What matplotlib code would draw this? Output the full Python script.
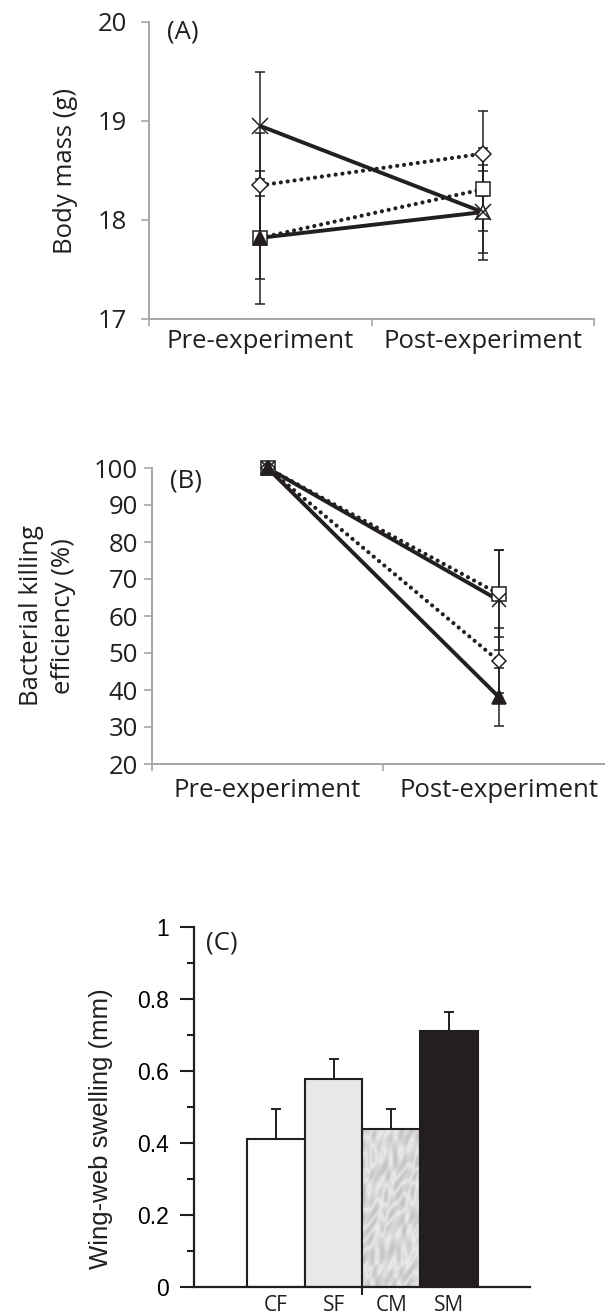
import numpy as np
import matplotlib.pyplot as plt
from matplotlib.patches import Rectangle

# ---- data ----
phases = ["Pre-experiment", "Post-experiment"]

# (A) body mass (g)
mass_cross = [18.95, 18.08]
mass_cross_err = [0.54, 0.41]
mass_diamond = [18.35, 18.67]
mass_diamond_err = [0.53, 0.43]
mass_square = [17.82, 18.31]
mass_square_err = [0.67, 0.42]
mass_tri = [17.82, 18.08]
mass_tri_err = [0.42, 0.48]

# (B) bacterial killing efficiency (%)
bke_cross = [100, 64.3]
bke_cross_err = [0, 13.5]
bke_diamond = [100, 47.9]
bke_diamond_err = [0, 8.8]
bke_square = [100, 66.0]
bke_square_err = [0, 11.8]
bke_tri = [100, 38.2]
bke_tri_err = [0, 7.8]

# (C) wing-web swelling (mm)
groups = ["CF", "SF", "CM", "SM"]
swelling = [0.411, 0.578, 0.439, 0.711]
swelling_err = [0.084, 0.054, 0.056, 0.053]

W, H = 605, 1316
K = "#231f20"
GREY = "#a6a6a6"
OS = "Open Sans"


def box(l, t, r, b):
    return [l / W, 1 - b / H, (r - l) / W, (b - t) / H]


fig = plt.figure(figsize=(W / 100, H / 100), dpi=100)


def line_panel(ax, series, ylim, yticks, tick_pad, xlab_pad):
    x = np.array([0.5, 1.5])
    for vals, err, mk, ms, face, ls in series:
        ax.errorbar(x, vals, yerr=err, fmt="none", ecolor=K, elinewidth=1.1,
                    capsize=3.6, capthick=1.1, zorder=2)
    for vals, err, mk, ms, face, ls in series:
        if ls == "solid":
            ax.plot(x, vals, color=K, lw=2.8, solid_capstyle="butt", zorder=3,
                    clip_on=False)
        else:
            ax.plot(x, vals, color=K, lw=3.0, dashes=(0.01, 1.65),
                    dash_capstyle="round", zorder=3, clip_on=False)
    for vals, err, mk, ms, face, ls in series:
        for i in range(2):
            ax.plot(x[i], vals[i], ls="none", marker=mk, ms=ms, mfc=face[i],
                    mec=K, mew=1.1, zorder=4, clip_on=False)
    ax.set_xlim(0, 2)
    ax.set_ylim(*ylim)
    ax.set_yticks(yticks)
    ax.set_xticks([0, 1, 2])
    ax.set_xticklabels([])
    ax.set_xticks(x, minor=True)
    ax.set_xticklabels(phases, minor=True, fontsize=18.5, family=OS, color=K)
    ax.tick_params(axis="x", which="minor", length=0, pad=xlab_pad)
    ax.tick_params(axis="x", which="major", length=5, width=1.2, color=GREY)
    ax.tick_params(axis="y", length=6, width=1.2, color=GREY, pad=tick_pad,
                   labelsize=18.5, labelcolor=K)
    for lab in ax.get_yticklabels():
        lab.set_family(OS)
    for s in ["top", "right"]:
        ax.spines[s].set_visible(False)
    for s in ["left", "bottom"]:
        ax.spines[s].set_color(GREY)
        ax.spines[s].set_linewidth(1.4)


# ---- (A) ----
axA = fig.add_axes(box(149, 22, 594, 319))
line_panel(axA, [
    (mass_square, mass_square_err, "s", 10.5, ["white", "white"], "dotted"),
    (mass_tri, mass_tri_err, "^", 10, [K, "white"], "solid"),
    (mass_diamond, mass_diamond_err, "D", 7.8, ["white", "white"], "dotted"),
    (mass_cross, mass_cross_err, "x", 11, ["none", "none"], "solid"),
], (17, 20), [17, 18, 19, 20], 10, 7)
axA.set_ylabel("Body mass (g)", fontsize=18.5, family=OS, color=K)
axA.yaxis.set_label_coords(-0.16, 0.5)
axA.text(0.04, 0.965, "(A)", transform=axA.transAxes, fontsize=18.5,
         family=OS, color=K, va="center", ha="left")

# ---- (B) ----
axB = fig.add_axes(box(152, 468, 614, 764))
line_panel(axB, [
    (bke_square, bke_square_err, "s", 10, ["white", "white"], "dotted"),
    (bke_diamond, bke_diamond_err, "D", 7.5, ["white", "white"], "dotted"),
    (bke_tri, bke_tri_err, "^", 10, [K, K], "solid"),
    (bke_cross, bke_cross_err, "x", 10, ["none", "none"], "solid"),
], (20, 100), list(range(20, 101, 10)), 4, 10)
axB.set_ylabel("Bacterial killing\nefficiency (%)", fontsize=18.5, family=OS,
               color=K, linespacing=1.35)
axB.yaxis.set_label_coords(-0.165, 0.5)
axB.text(0.04, 0.955, "(B)", transform=axB.transAxes, fontsize=18.5,
         family=OS, color=K, va="center", ha="left")

# ---- (C) ----
axC = fig.add_axes(box(194, 927, 530, 1287))
xc = np.arange(1, 5)
faces = ["white", "#e8e8ea", "none", K]
axC.bar(xc, swelling, width=1.0, color=faces, edgecolor=K, linewidth=1.5,
        zorder=2)
axC.errorbar(xc, swelling, yerr=[np.zeros(4), swelling_err], fmt="none",
             ecolor=K, elinewidth=1.4, capsize=3.4, capthick=1.4, zorder=1)

# marble-like fill for CM bar
gx, gy = np.meshgrid(np.linspace(0, 1, 160), np.linspace(0, 1, 400))
marble = (np.sin(6 * gx + 17 * gy + 3.0 * np.sin(9 * gy + 4 * gx))
          + 0.7 * np.sin(29 * gy - 11 * gx + 2.0 * np.sin(15 * gx + 7 * gy))
          + 0.5 * np.sin(41 * gx + 37 * gy + 1.5 * np.sin(21 * gy)))
marble = np.abs(marble) ** 0.6
img = axC.imshow(marble, cmap="Greys", vmin=-1.0, vmax=6.5,
                 extent=(2.5, 3.5, 0, swelling[2]), aspect="auto", zorder=1.5,
                 interpolation="bilinear")
img.set_clip_path(Rectangle((2.5, 0), 1.0, swelling[2], transform=axC.transData))

axC.set_xlim(-0.425, 5.41)
axC.set_ylim(0, 1)
axC.set_yticks([0, 0.2, 0.4, 0.6, 0.8, 1.0])
axC.set_yticklabels(["0", "0.2", "0.4", "0.6", "0.8", "1"])
axC.set_yticks(np.arange(0.1, 1.0, 0.2), minor=True)
axC.tick_params(axis="y", which="major", length=10, width=1.5, color=K,
                labelsize=16.5, pad=8)
axC.tick_params(axis="y", which="minor", length=5, width=1.5, color=K)
for lab in axC.get_yticklabels():
    lab.set_family("Liberation Sans")
axC.set_xticks([2.5])
axC.set_xticklabels([""])
axC.tick_params(axis="x", which="major", length=6, width=1.5, color=K)
axC.set_xticks(xc, minor=True)
axC.set_xticklabels(groups, minor=True, fontsize=15, family=OS, color=K)
axC.tick_params(axis="x", which="minor", length=0, pad=6)
for s in ["top", "right"]:
    axC.spines[s].set_visible(False)
for s in ["left", "bottom"]:
    axC.spines[s].set_color(K)
    axC.spines[s].set_linewidth(1.6)
axC.set_ylabel("Wing-web swelling (mm)", fontsize=18.5, family="Liberation Sans",
               color=K)
axC.yaxis.set_label_coords(-0.24, 0.44)
axC.text(0.035, 0.955, "(C)", transform=axC.transAxes, fontsize=18.5,
         family=OS, color=K, va="center", ha="left")

fig.savefig("out.png", dpi=100)
